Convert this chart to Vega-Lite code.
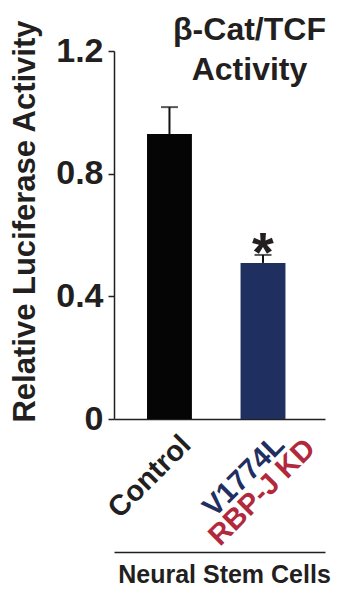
{
  "$schema": "https://vega.github.io/schema/vega-lite/v6.json",
  "width": 211,
  "height": 368,
  "autosize": {"type": "none"},
  "padding": {"left": 114, "top": 51, "right": 12, "bottom": 171},
  "background": "white",
  "config": {"view": {"stroke": null}, "font": "Liberation Sans"},
  "title": {
    "text": ["β-Cat/TCF", "Activity"],
    "fontSize": 32,
    "font": "Liberation Sans",
    "fontWeight": "bold",
    "color": "#231f20",
    "anchor": "middle",
    "frame": "group",
    "dx": 30,
    "offset": -100,
    "baseline": "bottom",
    "lineHeight": 40
  },
  "data": {
    "values": [
      {"group": "Control", "value": 0.929, "upper": 1.017, "sig": "", "line2": ""},
      {"group": "V1774L RBP-J KD", "value": 0.509, "upper": 0.535, "sig": "*", "line2": "RBP-J KD"}
    ]
  },
  "layer": [
    {
      "mark": {"type": "bar"},
      "encoding": {
        "x": {
          "field": "group", "type": "nominal", "sort": null,
          "scale": {"paddingInner": 0.52, "paddingOuter": 0.388, "align": 0.455},
          "axis": {
            "orient": "bottom",
            "title": null,
            "domain": true,
            "domainColor": "#231f20",
            "domainWidth": 1.5,
            "ticks": false,
            "tickSize": 0,
            "labelAngle": -45,
            "labelAlign": "right",
            "labelBaseline": "alphabetic",
            "labelOffset": 23,
            "labelPadding": 27,
            "labelFontSize": 29,
            "labelFontWeight": "bold",
            "labelFont": "Liberation Sans",
            "labelExpr": "datum.value == 'Control' ? 'Control' : 'V1774L'",
            "labelColor": {"condition": {"test": "datum.value == 'Control'", "value": "#231f20"}, "value": "#1f2f62"}
          }
        },
        "y": {
          "field": "value", "type": "quantitative",
          "scale": {"domain": [0, 1.2], "nice": false, "zero": true},
          "axis": {
            "title": "Relative Luciferase Activity",
            "titleFontSize": 31,
            "titleFont": "Liberation Sans",
            "titleFontWeight": "bold",
            "titleColor": "#231f20",
            "titlePadding": 14,
            "titleY": 170,
            "values": [0, 0.4, 0.8, 1.2],
            "format": ".1~f",
            "grid": false,
            "domainColor": "#231f20",
            "domainWidth": 1.5,
            "tickColor": "#231f20",
            "tickWidth": 1.5,
            "tickSize": 6,
            "labelPadding": 5,
            "labelFontSize": 34,
            "labelFont": "Liberation Sans",
            "labelFontWeight": "bold",
            "labelColor": "#231f20"
          }
        },
        "color": {
          "field": "group", "type": "nominal",
          "scale": {"domain": ["Control", "V1774L RBP-J KD"], "range": ["#050505", "#1f2f5f"]},
          "legend": null
        }
      }
    },
    {
      "mark": {"type": "rule", "strokeWidth": 2, "color": "#111111"},
      "encoding": {
        "x": {
          "field": "group", "type": "nominal", "sort": null,
          "axis": {
            "orient": "bottom",
            "offset": 133,
            "labels": false,
            "ticks": false,
            "grid": false,
            "domain": true,
            "domainWidth": 1.5,
            "domainColor": "#231f20",
            "title": "Neural Stem Cells",
            "titleFontSize": 25,
            "titleFontWeight": "bold",
            "titleFont": "Liberation Sans",
            "titleColor": "#231f20",
            "titlePadding": 10,
            "titleX": 110
          }
        },
        "y": {"field": "value", "type": "quantitative"},
        "y2": {"field": "upper"}
      }
    },
    {
      "mark": {"type": "tick", "size": 17, "thickness": 2, "color": "#111111"},
      "encoding": {
        "x": {"field": "group", "type": "nominal", "sort": null, "axis": null},
        "y": {"field": "upper", "type": "quantitative"}
      }
    },
    {
      "mark": {"type": "text", "fontSize": 56, "fontWeight": "bold", "font": "Liberation Sans", "baseline": "alphabetic", "dy": 16, "color": "#231f20"},
      "encoding": {
        "x": {"field": "group", "type": "nominal", "sort": null, "axis": null},
        "y": {"field": "upper", "type": "quantitative"},
        "text": {"field": "sig"}
      }
    },
    {
      "mark": {"type": "text", "angle": 315, "align": "right", "baseline": "alphabetic", "dx": 16, "dy": 60, "fontSize": 29, "fontWeight": "bold", "font": "Liberation Sans", "color": "#b2283c"},
      "encoding": {
        "x": {"field": "group", "type": "nominal", "sort": null, "axis": null},
        "y": {"datum": 0, "type": "quantitative"},
        "text": {"field": "line2"}
      }
    }
  ],
  "resolve": {"axis": {"x": "independent"}}
}
